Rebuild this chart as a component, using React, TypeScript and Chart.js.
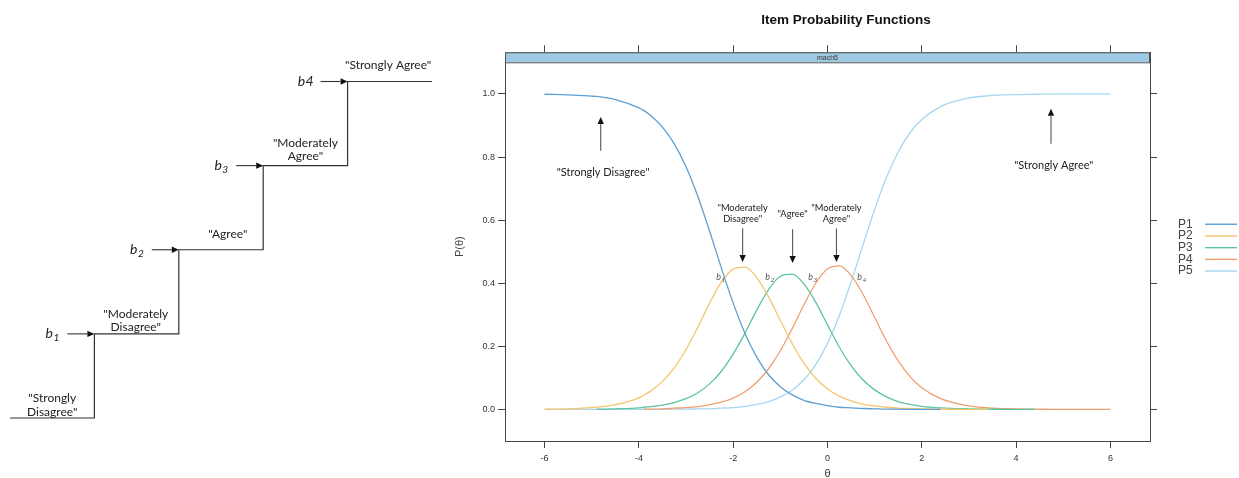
import React, { useEffect, useRef } from 'react';
import { Chart, registerables } from 'chart.js';
Chart.register(...registerables);

// ---------- data: item probability functions ----------
const theta = [-6, -5.5, -5, -4.9, -4.5, -4, -3.9, -3.75, -3.5, -3.25, -3, -2.75, -2.5, -2.25, -2, -1.75, -1.5, -1.25, -1, -0.75, -0.5, -0.25, 0, 0.25, 0.5, 0.75, 1, 1.25, 1.5, 1.75, 2, 2.4, 3, 3.4, 4, 4.4, 5, 5.5, 6];

const p1 = [0.999, 0.997, 0.993, 0.992, 0.982, 0.956, 0.948, 0.932, 0.895, 0.842, 0.769, 0.675, 0.565, 0.448, 0.337, 0.241, 0.166, 0.110, 0.072, 0.046, 0.029, 0.019, 0.012, 0.007, 0.005, 0.003, 0.002, 0.001, 0.001, 0.000, 0.000, 0.000, null, null, null, null, null, null, null];
const p2 = [0.001, 0.002, 0.006, 0.007, 0.015, 0.037, 0.045, 0.058, 0.089, 0.132, 0.190, 0.261, 0.337, 0.404, 0.445, 0.451, 0.418, 0.357, 0.282, 0.209, 0.147, 0.099, 0.065, 0.042, 0.027, 0.017, 0.011, 0.007, 0.004, 0.003, 0.002, 0.001, 0.000, 0.000, null, null, null, null, null];
const p3 = [null, null, null, 0.001, 0.002, 0.005, 0.007, 0.009, 0.014, 0.022, 0.034, 0.053, 0.081, 0.121, 0.176, 0.242, 0.315, 0.380, 0.422, 0.429, 0.398, 0.340, 0.268, 0.198, 0.139, 0.094, 0.062, 0.040, 0.025, 0.016, 0.010, 0.005, 0.002, 0.001, 0.000, 0.000, null, null, null];
const p4 = [null, null, null, null, null, null, 0.001, 0.001, 0.002, 0.004, 0.006, 0.009, 0.015, 0.023, 0.036, 0.056, 0.086, 0.129, 0.186, 0.256, 0.332, 0.400, 0.446, 0.455, 0.425, 0.366, 0.292, 0.217, 0.154, 0.104, 0.069, 0.034, 0.011, 0.005, 0.002, 0.001, 0.000, 0.000, 0.000];
const p5 = [0.000, 0.000, 0.000, 0.000, 0.000, 0.000, 0.000, 0.000, 0.000, 0.001, 0.001, 0.002, 0.002, 0.004, 0.006, 0.010, 0.016, 0.025, 0.039, 0.061, 0.094, 0.142, 0.209, 0.297, 0.404, 0.520, 0.634, 0.735, 0.816, 0.877, 0.919, 0.960, 0.987, 0.994, 0.998, 0.999, 1.000, 1.000, 1.000];

const seriesNames = ['P1', 'P2', 'P3', 'P4', 'P5'];
const seriesValues = [p1, p2, p3, p4, p5];
const seriesColors = ['#5E9FD3', '#F5C56E', '#5CC49E', '#EF9F72', '#A6D7F1'];

const xTicks = [-6, -4, -2, 0, 2, 4, 6];
const yTicks = [0, 0.2, 0.4, 0.6, 0.8, 1.0];
const xMin = -6.84, xMax = 6.84, yMin = -0.1, yMax = 1.132;
const panelName = 'mach5';

// ---------- data: staircase diagram ----------
const categoryLabels = ['"Strongly Disagree"', '"Moderately Disagree"', '"Agree"', '"Moderately Agree"', '"Strongly Agree"'];
const thresholdDigits = ['1', '2', '3', '4'];
const stairLevelX = [0, 1, 2, 3, 4, 5];
const stairLevelY = [0, 1, 2, 3, 4, 4];

// annotation placement (data coordinates)
const stairNotes = [
  { lines: ['"Strongly', 'Disagree"'], x: 0.5, y: 0.155 },
  { lines: ['"Moderately', 'Disagree"'], x: 1.49, y: 1.16 },
  { lines: ['"Agree"'], x: 2.58, y: 2.18 },
  { lines: ['"Moderately', 'Agree"'], x: 3.5, y: 3.19 },
  { lines: ['"Strongly Agree"'], x: 4.48, y: 4.19 },
];
const mainNotes = [
  { lines: ['"Strongly Disagree"'], size: 11, x: -4.76, textY: 0.75, arrowX: -4.81, from: 0.82, to: 0.927 },
  { lines: ['"Moderately', 'Disagree"'], size: 9.3, x: -1.8, textY: 0.62, arrowX: -1.8, from: 0.574, to: 0.467 },
  { lines: ['"Agree"'], size: 9.3, x: -0.74, textY: 0.621, arrowX: -0.74, from: 0.571, to: 0.464 },
  { lines: ['"Moderately', 'Agree"'], size: 9.3, x: 0.19, textY: 0.62, arrowX: 0.19, from: 0.574, to: 0.467 },
  { lines: ['"Strongly Agree"'], size: 11, x: 4.8, textY: 0.773, arrowX: 4.74, from: 0.842, to: 0.953 },
];
const mainBLabels = [
  { x: -2.27, y: 0.42 },
  { x: -1.23, y: 0.42 },
  { x: -0.32, y: 0.42 },
  { x: 0.72, y: 0.42 },
];

const SANS = "'Liberation Sans', Arial, sans-serif";
const NOTE = "Lato, 'Open Sans', sans-serif";

function drawArrow(ctx: CanvasRenderingContext2D, x1: number, y1: number, x2: number, y2: number, lineColor: string, headColor: string, headLen: number, headHalf: number) {
  ctx.save();
  const ang = Math.atan2(y2 - y1, x2 - x1);
  const bx = x2 - headLen * Math.cos(ang);
  const by = y2 - headLen * Math.sin(ang);
  ctx.strokeStyle = lineColor;
  ctx.lineWidth = 1.1;
  ctx.beginPath();
  ctx.moveTo(x1, y1);
  ctx.lineTo(bx, by);
  ctx.stroke();
  ctx.fillStyle = headColor;
  ctx.beginPath();
  ctx.moveTo(x2, y2);
  ctx.lineTo(bx + headHalf * Math.sin(ang), by - headHalf * Math.cos(ang));
  ctx.lineTo(bx - headHalf * Math.sin(ang), by + headHalf * Math.cos(ang));
  ctx.closePath();
  ctx.fill();
  ctx.restore();
}

function drawB(ctx: CanvasRenderingContext2D, cx: number, cy: number, digit: string, size: number, sub: boolean, color: string) {
  ctx.save();
  ctx.fillStyle = color;
  ctx.textBaseline = 'middle';
  ctx.textAlign = 'left';
  ctx.font = `italic ${size}px ${NOTE}`;
  const bw = ctx.measureText('b').width;
  const dSize = sub ? size * 0.72 : size;
  ctx.font = `italic ${dSize}px ${NOTE}`;
  const dw = ctx.measureText(digit).width;
  const start = cx - (bw + dw) / 2;
  ctx.font = `italic ${size}px ${NOTE}`;
  ctx.fillText('b', start, cy);
  ctx.font = `italic ${dSize}px ${NOTE}`;
  ctx.fillText(digit, start + bw + 0.5, cy + (sub ? size * 0.28 : 0));
  ctx.restore();
}

function StairChart() {
  const ref = useRef<HTMLCanvasElement | null>(null);
  useEffect(() => {
    const decor = {
      id: 'stairDecor',
      afterDatasetsDraw(chart: any) {
        const ctx = chart.ctx as CanvasRenderingContext2D;
        const xs = chart.scales.x, ys = chart.scales.y;
        thresholdDigits.forEach((d, i) => {
          const k = i + 1;
          const py = ys.getPixelForValue(stairLevelY[k]);
          drawArrow(ctx, xs.getPixelForValue(stairLevelX[k] - 0.32), py, xs.getPixelForValue(stairLevelX[k]), py, '#333', '#111', 7, 3.2);
          drawB(ctx, xs.getPixelForValue(stairLevelX[k] - 0.5), py, d, 14, k < 4, '#222');
        });
        ctx.save();
        ctx.fillStyle = '#222';
        ctx.font = `12px ${NOTE}`;
        ctx.textAlign = 'center';
        ctx.textBaseline = 'middle';
        stairNotes.forEach((n) => {
          const px = xs.getPixelForValue(n.x);
          const py = ys.getPixelForValue(n.y);
          n.lines.forEach((ln, i) => ctx.fillText(ln, px, py + (i - (n.lines.length - 1) / 2) * 13.5));
        });
        ctx.restore();
      },
    };
    const chart = new Chart(ref.current as HTMLCanvasElement, {
      type: 'scatter',
      data: {
        datasets: [{
          label: 'categories',
          data: stairLevelX.map((x, i) => ({ x, y: stairLevelY[i] })),
          showLine: true,
          stepped: 'before',
          borderColor: '#333',
          borderWidth: 1.2,
          pointRadius: 0,
          clip: false,
        } as any],
      },
      options: {
        animation: false,
        responsive: false,
        events: [],
        layout: { padding: { left: 10, right: 13, top: 81.5, bottom: 60 } },
        plugins: { legend: { display: false }, tooltip: { enabled: false }, title: { display: false } },
        scales: {
          x: { type: 'linear', min: 0, max: 5, display: false },
          y: { type: 'linear', min: 0, max: 4, display: false },
        },
      },
      plugins: [decor],
    });
    return () => chart.destroy();
  }, []);
  return <canvas ref={ref} width={445} height={478} style={{ position: 'absolute', left: 0, top: 0 }} />;
}

function MainChart() {
  const ref = useRef<HTMLCanvasElement | null>(null);
  useEffect(() => {
    const decor = {
      id: 'mainDecor',
      afterDatasetsDraw(chart: any) {
        const ctx = chart.ctx as CanvasRenderingContext2D;
        const area = chart.chartArea;
        const xs = chart.scales.x, ys = chart.scales.y;
        // strip
        ctx.save();
        ctx.fillStyle = '#9FCAE3';
        ctx.fillRect(area.left, area.top, area.right - area.left, 10);
        ctx.strokeStyle = '#555';
        ctx.lineWidth = 1;
        ctx.strokeRect(area.left + 0.5, area.top + 0.5, area.right - area.left - 1, 10);
        ctx.fillStyle = '#333';
        ctx.font = `7px ${SANS}`;
        ctx.textAlign = 'center';
        ctx.textBaseline = 'middle';
        ctx.fillText(panelName, (area.left + area.right) / 2, area.top + 5.5);
        ctx.restore();

        // annotations
        ctx.save();
        ctx.fillStyle = '#222';
        ctx.textAlign = 'center';
        ctx.textBaseline = 'middle';
        mainNotes.forEach((n) => {
          ctx.font = `${n.size}px ${NOTE}`;
          const px = xs.getPixelForValue(n.x);
          const ty = ys.getPixelForValue(n.textY);
          n.lines.forEach((ln, i) => ctx.fillText(ln, px, ty + (i - (n.lines.length - 1) / 2) * 11));
          const ax = xs.getPixelForValue(n.arrowX);
          drawArrow(ctx, ax, ys.getPixelForValue(n.from), ax, ys.getPixelForValue(n.to), '#555', '#111', 7, 3.2);
        });
        ctx.restore();
        mainBLabels.forEach((b, i) => {
          drawB(ctx, xs.getPixelForValue(b.x), ys.getPixelForValue(b.y), thresholdDigits[i], 9, true, '#555');
        });

        // legend
        ctx.save();
        const cy = (area.top + area.bottom) / 2 + 1;
        ctx.font = `12px ${SANS}`;
        ctx.textAlign = 'left';
        ctx.textBaseline = 'middle';
        chart.data.datasets.forEach((ds: any, i: number) => {
          const y = cy + (i - 2) * 11.7;
          ctx.fillStyle = '#444';
          ctx.fillText(ds.label, area.right + 28, y);
          ctx.strokeStyle = ds.borderColor;
          ctx.lineWidth = 1.4;
          ctx.beginPath();
          ctx.moveTo(area.right + 55, y);
          ctx.lineTo(area.right + 87, y);
          ctx.stroke();
        });
        ctx.restore();
      },
    };

    const tickFont = { family: SANS, size: 9 };
    const gridCfg = { drawOnChartArea: false, drawTicks: true, tickLength: 7, color: '#444', lineWidth: 1 };
    const borderCfg = { display: true, color: '#444', width: 1 };

    const chart = new Chart(ref.current as HTMLCanvasElement, {
      type: 'scatter',
      data: {
        datasets: seriesValues.map((vals, i) => ({
          label: seriesNames[i],
          data: theta.map((t, j) => ({ x: t, y: vals[j] })),
          showLine: true,
          borderColor: seriesColors[i],
          backgroundColor: seriesColors[i],
          borderWidth: 1.3,
          pointRadius: 0,
          cubicInterpolationMode: 'monotone',
          spanGaps: false,
        } as any)),
      },
      options: {
        animation: false,
        responsive: false,
        events: [],
        layout: { padding: { left: 13, right: 0, top: 0, bottom: 0 } },
        plugins: {
          legend: { display: false },
          tooltip: { enabled: false },
          title: {
            display: true,
            text: 'Item Probability Functions',
            color: '#111',
            font: { family: SANS, size: 13.5, weight: 'bold' },
            padding: { top: 12, bottom: 10 },
          },
        },
        scales: {
          x: {
            type: 'linear', position: 'bottom', min: xMin, max: xMax,
            afterBuildTicks: (s: any) => { s.ticks = xTicks.map((v) => ({ value: v })); },
            afterFit: (s: any) => { s.height = 37; },
            grid: gridCfg, border: borderCfg,
            ticks: { font: tickFont, color: '#333', padding: 5, maxRotation: 0, autoSkip: false, callback: (v: any) => String(v) },
            title: { display: true, text: 'θ', color: '#333', font: { family: SANS, size: 11 }, padding: { top: 0, bottom: -3 } },
          },
          x2: {
            type: 'linear', position: 'top', min: xMin, max: xMax,
            afterBuildTicks: (s: any) => { s.ticks = xTicks.map((v) => ({ value: v })); },
            afterFit: (s: any) => { s.height = 14.1; },
            grid: gridCfg, border: borderCfg,
            ticks: { display: true, callback: () => '', autoSkip: false, maxRotation: 0 },
          },
          y: {
            type: 'linear', position: 'left', min: yMin, max: yMax,
            afterBuildTicks: (s: any) => { s.ticks = yTicks.map((v) => ({ value: v })); },
            afterFit: (s: any) => { s.width = 52; },
            grid: gridCfg, border: borderCfg,
            ticks: { font: tickFont, color: '#333', padding: 3, autoSkip: false, callback: (v: any) => Number(v).toFixed(1) },
            title: { display: true, text: 'P(θ)', color: '#444', font: { family: SANS, size: 11 }, padding: 0 },
          },
          y2: {
            type: 'linear', position: 'right', min: yMin, max: yMax,
            afterBuildTicks: (s: any) => { s.ticks = yTicks.map((v) => ({ value: v })); },
            afterFit: (s: any) => { s.width = 89; },
            grid: gridCfg, border: borderCfg,
            ticks: { display: true, callback: () => '', autoSkip: false },
          },
        },
      } as any,
      plugins: [decor],
    });
    return () => chart.destroy();
  }, []);
  return <canvas ref={ref} width={799} height={478} style={{ position: 'absolute', left: 440, top: 0 }} />;
}

export default function App() {
  return (
    <div style={{ position: 'absolute', left: 0, top: 0, width: 1239, height: 478, background: '#fff', overflow: 'hidden' }}>
      <StairChart />
      <MainChart />
    </div>
  );
}
